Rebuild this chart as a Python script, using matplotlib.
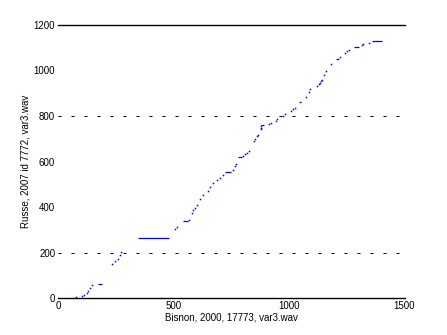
import numpy as np
import matplotlib as mpl
mpl.use('Agg')
import matplotlib.pyplot as plt
from matplotlib.ticker import FixedLocator

plt.rcParams['font.family'] = ['Liberation Sans Narrow', 'Liberation Sans', 'DejaVu Sans']
plt.rcParams['font.size'] = 7

# alignment path, isolated points (x frame, y frame)
path_x = [77, 105, 114, 124, 131, 138, 146,
          235, 247, 258, 267, 274,
          508, 516, 568, 578, 586, 594, 603, 615, 629, 648, 658, 670, 687,
          701, 713, 756, 766, 771, 802, 811, 818, 828, 850, 854, 863, 867,
          880, 880, 880, 915, 923, 944, 949, 975, 984, 1007, 1016, 1025,
          1075, 1085, 1091, 1123, 1129, 1134, 1139, 1143, 1153, 1160, 1183,
          1222, 1244, 1251, 1258, 1315, 1322, 1348]
path_y = [3, 7, 13, 21, 31, 42, 56,
          148, 161, 173, 189, 202,
          302, 313, 342, 374, 386, 395, 410, 434, 451, 472, 489, 507, 519,
          529, 541, 563, 582, 588, 624, 632, 637, 646, 690, 697, 712, 718,
          742, 749, 756, 765, 768, 780, 787, 801, 807, 822, 829, 835,
          882, 906, 917, 932, 941, 946, 952, 958, 979, 997, 1027,
          1058, 1077, 1086, 1091, 1112, 1118, 1121]

# horizontal runs of the path (x start, x end, y)
run_x0 = [175, 346, 541, 723, 781, 880, 1045, 1203, 1280, 1358]
run_x1 = [192, 481, 563, 748, 798, 890, 1051, 1215, 1305, 1401]
run_y = [60, 263, 337, 554, 618, 759, 860, 1049, 1105, 1129]

grid_y = [200, 800]
xticks = [0, 500, 1000, 1500]
yticks = [0, 200, 400, 600, 800, 1000, 1200]

fig = plt.figure(figsize=(4.47, 3.35), dpi=100)
ax = fig.add_axes([0.1298, 0.1104, 0.7752, 0.815])

ax.plot(path_x, path_y, linestyle='none', marker='s', markersize=1.1,
        markeredgewidth=0, color='#0000ff')
ax.hlines(run_y, run_x0, run_x1, color='#0000ff', linewidth=0.9)

ax.hlines(grid_y, 0, 1500, color='black', linewidth=0.72,
          linestyles=[(0, (3, 10))])

ax.set_xlim(0, 1500)
ax.set_ylim(0, 1200)
ax.set_xticks(xticks)
ax.set_yticks(yticks)
ax.yaxis.set_minor_locator(FixedLocator(grid_y))
ax.tick_params(axis='both', which='major', length=0, pad=2, labelsize=7)
ax.tick_params(axis='y', which='minor', length=4, width=0.8, direction='in',
               left=True, right=True)

for s in ['left', 'right']:
    ax.spines[s].set_visible(False)
for s in ['top', 'bottom']:
    ax.spines[s].set_linewidth(1.0)

ax.set_xlabel('Bisnon, 2000, 17773, var3.wav', fontsize=7, labelpad=1)
ax.set_ylabel('Russe, 2007 id 7772, var3.wav', fontsize=7, labelpad=2)

fig.savefig('out.png', dpi=100)
